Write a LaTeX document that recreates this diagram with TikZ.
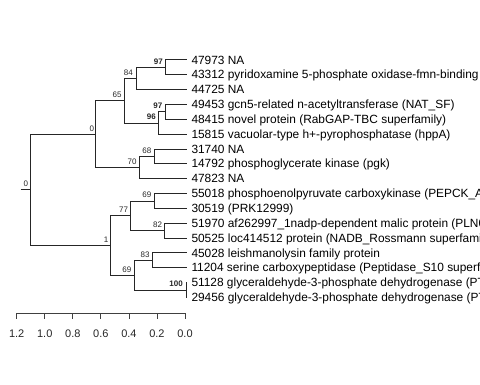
\documentclass[tikz,border=0pt]{standalone}
\usepackage{fontspec}
\setmainfont{Liberation Sans}
\begin{document}
\begin{tikzpicture}[x=1pt,y=-1pt,
  edge/.style={draw=black!85,line width=0.8pt},
  leaflab/.style={anchor=base west,inner sep=0pt,font=\fontsize{11.9}{13}\selectfont,text=black},
  bs/.style={anchor=south east,inner sep=0pt,font=\fontsize{8}{9}\selectfont,text=black!85},
  bsb/.style={bs,font=\fontsize{8}{9}\selectfont\bfseries},
  axislab/.style={anchor=center,inner sep=0pt,font=\fontsize{11}{12}\selectfont,text=black!85}]
\useasboundingbox (0,0) rectangle (480,384);
% leaves
\def\tx{186.5}
\foreach \n/\i in {l0/0,l1/1,l2/2,l3/3,l4/4,l5/5,l6/6,l7/7,l8/8,l9/9,l10/10,l11/11,l12/12,l13/13,l14/14,l15/15,l16/16}{
  \coordinate (\n) at (\tx,{59.8+14.85*\i});
}
% internal nodes
\coordinate (n97a) at (165.5,67.2);
\coordinate (n84) at (136,78.35);
\coordinate (n97b) at (165,111.8);
\coordinate (n96) at (158.5,123.0);
\coordinate (n65) at (124.3,100.7);
\coordinate (n68) at (154,156.3);
\coordinate (n70) at (139.3,167.5);
\coordinate (n0) at (95.7,134.1);
\coordinate (n69a) at (154,200.9);
\coordinate (n82) at (164.7,230.6);
\coordinate (n77) at (130.7,215.7);
\coordinate (n83) at (152.3,260.3);
\coordinate (n100) at (186,290.0);
\coordinate (n69b) at (134,275.1);
\coordinate (n1) at (110,245.4);
\coordinate (root) at (30.3,189.8);
\coordinate (stub) at (20.7,189.8);
% edges
\draw[edge] (stub) -- (root);
\foreach \p/\c in {root/n0,root/n1,n0/n65,n0/n70,n65/n84,n65/n96,n84/n97a,n84/l2,n97a/l0,n97a/l1,
  n96/n97b,n96/l5,n97b/l3,n97b/l4,n70/n68,n70/l8,n68/l6,n68/l7,
  n1/n77,n1/n69b,n77/n69a,n77/n82,n69a/l9,n69a/l10,n82/l11,n82/l12,
  n69b/n83,n69b/n100,n83/l13,n83/l14,n100/l15,n100/l16}{
  \draw[edge] (\p) |- (\c);
}
% leaf labels
\foreach \n/\t in {l0/47973 NA,
 l1/43312 pyridoxamine 5-phosphate oxidase-fmn-binding,
 l2/44725 NA,
 l3/49453 gcn5-related n-acetyltransferase (NAT\_SF),
 l4/48415 novel protein (RabGAP-TBC superfamily),
 l5/15815 vacuolar-type h+-pyrophosphatase (hppA),
 l6/31740 NA,
 l7/14792 phosphoglycerate kinase (pgk),
 l8/47823 NA,
 l9/55018 phosphoenolpyruvate carboxykinase (PEPCK\_ATP),
 l10/30519 (PRK12999),
 l11/51970 af262997\_1nadp-dependent malic protein (PLN03129),
 l12/50525 loc414512 protein (NADB\_Rossmann superfamily),
 l13/45028 leishmanolysin family protein,
 l14/11204 serine carboxypeptidase (Peptidase\_S10 superfamily),
 l15/51128 glyceraldehyde-3-phosphate dehydrogenase (PTZ00023),
 l16/29456 glyceraldehyde-3-phosphate dehydrogenase (PTZ00023)}{
  \node[leaflab] (t\n) at ([xshift=4.8pt,yshift=-4.2pt]\n) {\t};
}
% support values
\node[bsb] (b97a) at ([xshift=-2.5pt,yshift=2.8pt]n97a) {97};
\node[bs] (b84) at ([xshift=-3pt,yshift=2.8pt]n84) {84};
\node[bsb] (b97b) at ([xshift=-2.5pt,yshift=2.8pt]n97b) {97};
\node[bsb] (b96) at ([xshift=-2.5pt,yshift=2.8pt]n96) {96};
\node[bs] (b65) at ([xshift=-2.5pt,yshift=2.8pt]n65) {65};
\node[bs] (b68) at ([xshift=-2.5pt,yshift=2.8pt]n68) {68};
\node[bs] (b70) at ([xshift=-2.5pt,yshift=2.8pt]n70) {70};
\node[bs] (b0) at ([xshift=-1.5pt,yshift=2.8pt]n0) {0};
\node[bs] (b69a) at ([xshift=-2.5pt,yshift=2.8pt]n69a) {69};
\node[bs] (b82) at ([xshift=-2.5pt,yshift=2.8pt]n82) {82};
\node[bs] (b77) at ([xshift=-2.5pt,yshift=2.8pt]n77) {77};
\node[bs] (b83) at ([xshift=-2.5pt,yshift=2.8pt]n83) {83};
\node[bsb] (b100) at ([xshift=-3pt,yshift=2.8pt]n100) {100};
\node[bs] (b69b) at ([xshift=-2.5pt,yshift=2.8pt]n69b) {69};
\node[bs] (b1) at ([xshift=-1.5pt,yshift=2.8pt]n1) {1};
\node[bs] (broot) at ([xshift=-2pt,yshift=2.8pt]root) {0};
% axis
\coordinate (a0) at (16.7,313.3);
\coordinate (a1) at (185,313.3);
\draw[draw=black!75,line width=0.8pt] (a0) -- (a1);
\foreach \v [count=\k from 0] in {1.2,1.0,0.8,0.6,0.4,0.2,0.0}{
  \coordinate (tk\k) at ({16.7+28.05*\k},313.3);
  \draw[draw=black!75,line width=0.8pt] (tk\k) -- ++(0,5.2);
  \node[axislab] (al\k) at ({16.7+28.05*\k},333.5) {\v};
}
\end{tikzpicture}
\end{document}
